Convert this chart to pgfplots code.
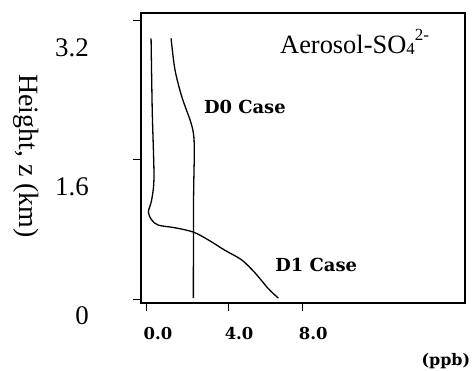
\documentclass[border=0pt]{standalone}
\usepackage{fontspec}
\setmainfont{Liberation Serif}
\newfontfamily\dvs{DejaVu Serif}
\usepackage{pgfplots}
\pgfplotsset{compat=1.18}
\begin{document}
\begin{tikzpicture}
\useasboundingbox (-141bp,-68bp) rectangle (332bp,303bp);
\begin{axis}[
  at={(0,0)}, anchor=south west,
  scale only axis, width=324bp, height=290bp,
  xmin=-0.309, xmax=16.39, ymin=-0.046, ymax=3.291,
  axis line style={line width=2bp},
  tick style={black, line width=1bp},
  tick align=outside, major tick length=8bp,
  xtick={0,4.18,8}, xticklabels={0.0,4.0,8.0},
  /pgf/number format/assume math mode=true,
  xticklabel style={font=\dvs\bfseries\fontsize{16.5}{18}\selectfont, anchor=north, inner sep=0pt, xshift=11bp, yshift=-16bp},
  ytick={0}, yticklabels={0},
  extra y ticks={1.6,3.2}, extra y tick labels={1.6,3.2},
  yticklabel style={font=\fontsize{27}{30}\selectfont, anchor=east, inner sep=0pt, xshift=-44bp, yshift=-17bp},
  extra y tick style={yticklabel style={yshift=-10bp}},
  xtick pos=bottom, ytick pos=left,
  ylabel={Height, z (km)},
  ylabel style={font=\fontsize{28}{30}\selectfont, at={(axis description cs:-0.355,0.507)}, rotate=180, anchor=center},
  xlabel={(ppb)},
  xlabel style={font=\dvs\bfseries\fontsize{16}{18}\selectfont, at={(axis description cs:0.941,-0.2)}, anchor=center},
]
\addplot[black, line width=1.3bp, smooth, tension=0.5] coordinates {
(0.21,3.00) (0.27,2.17) (0.36,1.41) (0.24,1.14) (0.07,1.00) (0.24,0.91) (0.58,0.85) (1.44,0.82) (2.39,0.77) (3.16,0.68) (4.02,0.56) (4.88,0.45) (5.57,0.30) (6.25,0.12) (6.77,0.01)
};
\addplot[black, line width=1.3bp, smooth, tension=0.5] coordinates {
(1.24,3.00) (1.44,2.64) (1.79,2.33) (2.22,2.06) (2.39,1.91) (2.44,1.71) (2.40,1.14) (2.39,0.01)
};
\node[anchor=base west, inner sep=0pt, font=\fontsize{26.5}{28}\selectfont] at (rel axis cs:0.429,0.862) {Aerosol-SO\raisebox{-1bp}{\fontsize{17}{17}\selectfont 4}\raisebox{13bp}{\fontsize{17}{17}\selectfont 2-}};
\node[anchor=base west, inner sep=0pt, font=\dvs\bfseries\fontsize{18}{20}\selectfont] at (rel axis cs:0.194,0.655) {D0 Case};
\node[anchor=base west, inner sep=0pt, font=\dvs\bfseries\fontsize{18}{20}\selectfont] at (rel axis cs:0.414,0.110) {D1 Case};
\end{axis}
\end{tikzpicture}
\end{document}
